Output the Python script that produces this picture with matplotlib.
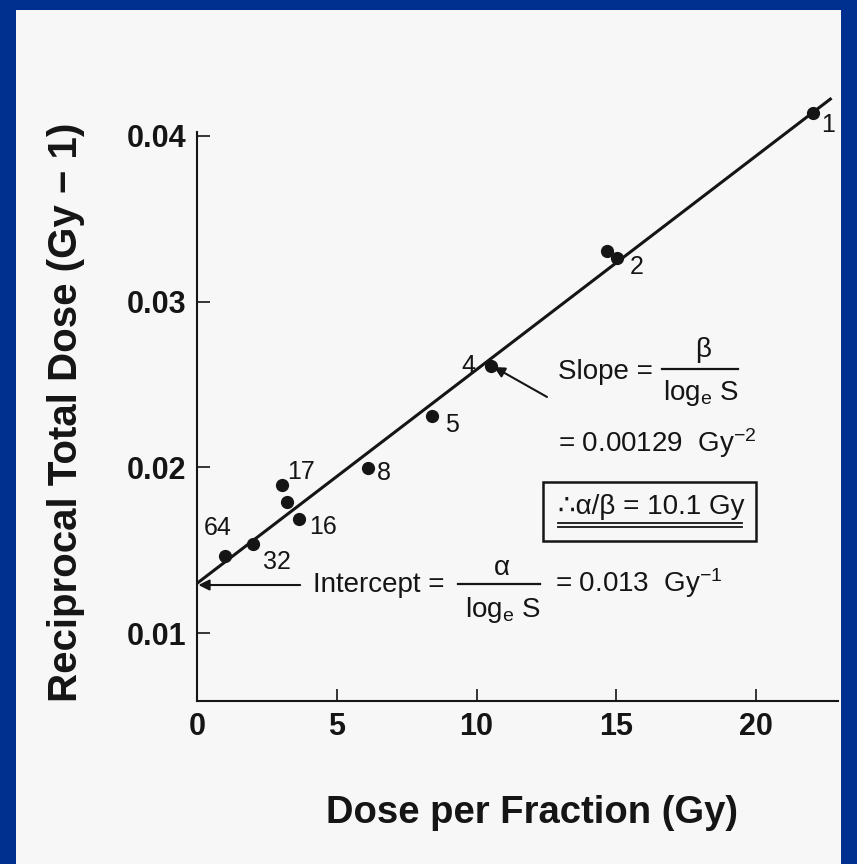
import matplotlib
matplotlib.use("Agg")
import matplotlib.pyplot as plt
from matplotlib.patches import Rectangle
import numpy as np

plt.rcParams['font.family'] = ['Liberation Sans', 'DejaVu Sans']
plt.rcParams['mathtext.fontset'] = 'custom'
plt.rcParams['mathtext.rm'] = 'Liberation Sans'
plt.rcParams['mathtext.it'] = 'Liberation Sans:italic'
plt.rcParams['mathtext.bf'] = 'Liberation Sans:bold'

# Measured points: dose per fraction (Gy) vs reciprocal total dose (1/Gy)
dose_per_fraction = [22.04, 14.67, 15.03, 10.52, 8.41, 6.12, 3.04, 3.22, 3.65, 2.00, 1.00]
reciprocal_dose = [0.04139, 0.03306, 0.03264, 0.02612, 0.02310, 0.01996,
                   0.01894, 0.01791, 0.01689, 0.01538, 0.01465]
fraction_numbers = ['1', '', '2', '4', '5', '8', '17', '', '16', '32', '64']

# Fitted straight line
fit_intercept = 0.013
fit_slope = 0.00129
fit_x_range = [0.0, 22.7]

x_ticks = [0, 5, 10, 15, 20]
x_tick_labels = ['0', '5', '10', '15', '20']
y_ticks = [0.01, 0.02, 0.03, 0.04]
y_tick_labels = ['0.01', '0.02', '0.03', '0.04']

INK = '#151515'
BLUE = '#00308F'
PAPER = '#F7F7F7'

fig = plt.figure(figsize=(8.57, 8.64), dpi=100, facecolor=BLUE)
fig.patches.append(Rectangle((16 / 857, 0), (841 - 16) / 857, (864 - 10) / 864,
                             transform=fig.transFigure, facecolor=PAPER,
                             edgecolor='none', zorder=-5))

ax = fig.add_axes([197 / 857, 1 - 701 / 864, (838 - 197) / 857, (701 - 132) / 864])
ax.set_zorder(2)
ax.set_facecolor('none')
ax.set_xlim(0, 22.93)
ax.set_ylim(0.0059, 0.04024)

for side in ('top', 'right'):
    ax.spines[side].set_visible(False)
for side in ('left', 'bottom'):
    ax.spines[side].set_color(INK)
    ax.spines[side].set_linewidth(1.5)

ax.set_xticks(x_ticks)
ax.set_xticklabels(x_tick_labels)
ax.set_yticks(y_ticks)
ax.set_yticklabels(y_tick_labels)
ax.tick_params(direction='in', length=9, width=1.2, color=INK,
               labelsize=22, labelcolor=INK, pad=8)
for lbl in ax.get_xticklabels() + ax.get_yticklabels():
    lbl.set_fontweight('bold')

# Fit line
fx = np.array(fit_x_range)
ax.plot(fx, fit_intercept + fit_slope * fx, color=INK, lw=2.2, solid_capstyle='butt',
        zorder=3, clip_on=False)

# Data points
ax.plot(dose_per_fraction, reciprocal_dose, 'o', color=INK, ms=8.5, zorder=4,
        clip_on=False)

# Number-of-fractions labels (offsets in points)
label_offsets = {'1': (11, -9), '2': (14, -6.5), '4': (-16.5, 0), '5': (14, -6.5),
                 '8': (11.5, -3.5), '17': (14, 9.5), '16': (17, -6),
                 '32': (17, -13), '64': (-5, 20)}
for x, y, n in zip(dose_per_fraction, reciprocal_dose, fraction_numbers):
    if not n:
        continue
    ax.annotate(n, (x, y), xytext=label_offsets[n], textcoords='offset points',
                ha='center', va='center', fontsize=18, color=INK,
                annotation_clip=False)

ann = dict(fontsize=20, color=INK)

# Slope annotation
ax.annotate('', xy=(10.62, 0.02606), xytext=(12.52, 0.02425),
            arrowprops=dict(arrowstyle='-|>', color=INK, lw=1.5,
                            mutation_scale=16, shrinkA=0, shrinkB=0))
ax.text(12.92, 0.02576, 'Slope =', ha='left', va='center', **ann)
ax.text(18.10, 0.02709, 'β', ha='center', va='center', **ann)
ax.plot([16.64, 19.36], [0.02594, 0.02594], color=INK, lw=1.6)
ax.text(18.03, 0.02449, r'log$_{\mathrm{e}}$ S', ha='center', va='center', **ann)
ax.text(12.92, 0.02147, r'= 0.00129  Gy$^{-2}$', ha='left', va='center', **ann)

# Boxed ratio with double underline
ax.add_patch(Rectangle((12.38, 0.01556), 20.0 - 12.38, 0.01912 - 0.01556,
                       fill=False, edgecolor=INK, lw=1.8))
ax.text(12.92, 0.01761, '∴α/β = 10.1 Gy', ha='left', va='center', **ann)
ax.plot([12.92, 19.5], [0.01664, 0.01664], color=INK, lw=1.3)
ax.plot([12.92, 19.5], [0.01640, 0.01640], color=INK, lw=1.3)

# Intercept annotation
ax.annotate('', xy=(0.05, 0.0129), xytext=(3.69, 0.0129),
            arrowprops=dict(arrowstyle='-|>', color=INK, lw=1.5,
                            mutation_scale=16, shrinkA=0, shrinkB=0))
ax.text(4.15, 0.0129, 'Intercept =', ha='left', va='center', **ann)
ax.text(10.91, 0.01393, 'α', ha='center', va='center', **ann)
ax.plot([9.34, 12.27], [0.01296, 0.01296], color=INK, lw=1.6)
ax.text(10.95, 0.01139, r'log$_{\mathrm{e}}$ S', ha='center', va='center', **ann)
ax.text(12.81, 0.01302, r'= 0.013  Gy$^{-1}$', ha='left', va='center', **ann)

# Axis titles
fig.text(532 / 857, 1 - 823 / 864, 'Dose per Fraction (Gy)', ha='center',
         va='baseline', fontsize=27.5, fontweight='bold', color=INK)
fig.text(77 / 857, 1 - 412 / 864, 'Reciprocal Total Dose (Gy − 1)', ha='center',
         va='baseline', rotation=90, rotation_mode='anchor', fontsize=29,
         fontweight='bold', color=INK)

fig.savefig('out.png', dpi=100, facecolor=BLUE)
